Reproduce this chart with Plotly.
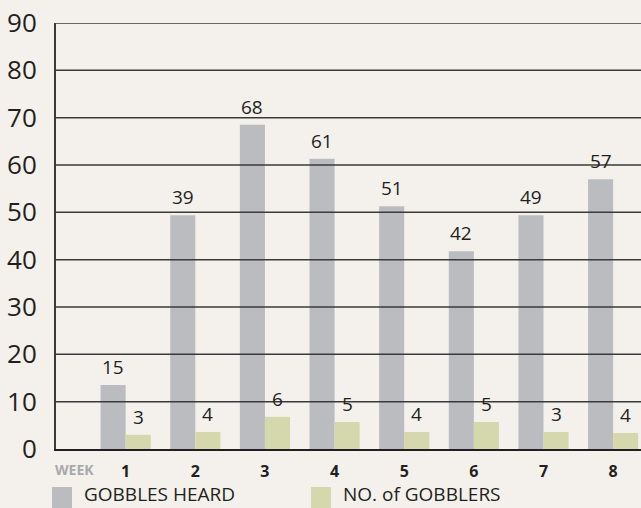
import plotly.graph_objects as go

weeks = [1, 2, 3, 4, 5, 6, 7, 8]
gobbles_heard = [13.5, 49.4, 68.5, 61.3, 51.3, 41.8, 49.4, 57.0]
gobbles_labels = ["15", "39", "68", "61", "51", "42", "49", "57"]
gobblers = [3.0, 3.6, 6.8, 5.7, 3.6, 5.7, 3.6, 3.4]
gobblers_labels = ["3", "4", "6", "5", "4", "5", "3", "4"]
series_names = ["GOBBLES HEARD", "NO. of GOBBLERS"]
y_ticks = [0, 10, 20, 30, 40, 50, 60, 70, 80, 90]

BG = "#F4F1EC"
GRAY = "#BBBCC0"
GREEN = "#D5D8AD"
INK = "#231F20"
FONT = "Open Sans"

fig = go.Figure()
fig.add_trace(go.Bar(x=weeks, y=gobbles_heard, name=series_names[0], marker_color=GRAY,
                     marker_line_width=0, hoverinfo="skip"))
fig.add_trace(go.Bar(x=weeks, y=gobblers, name=series_names[1], marker_color=GREEN,
                     marker_line_width=0, hoverinfo="skip"))

# value labels above each bar
for vals, labels, xs in [(gobbles_heard, gobbles_labels, -12.5), (gobblers, gobblers_labels, 12.5)]:
    for w, v, t in zip(weeks, vals, labels):
        fig.add_annotation(x=w, y=v, xref="x", yref="y", text=t, showarrow=False,
                           xanchor="center", yanchor="bottom", xshift=xs, yshift=3,
                           font=dict(family=FONT, size=19, color=INK))

# gridlines drawn above bars
for v in y_ticks[1:]:
    fig.add_shape(type="line", xref="paper", yref="y", x0=0, x1=1, y0=v, y1=v,
                  line=dict(color="#3a3a3a", width=1.5), layer="above")

# legend
for i, (name, col) in enumerate(zip(series_names, [GRAY, GREEN])):
    xoff = 0 if i == 0 else 259
    fig.add_shape(type="rect", xref="paper", yref="paper", xsizemode="pixel", ysizemode="pixel",
                  xanchor=0, yanchor=0, x0=-4 + xoff, x1=16 + xoff, y0=-38, y1=-70,
                  fillcolor=col, line_width=0)
    fig.add_annotation(xref="paper", yref="paper", x=0, y=0, xshift=27 + xoff, yshift=-45,
                       xanchor="left", yanchor="middle", showarrow=False, text=name,
                       borderpad=0, font=dict(family=FONT, size=19, color=INK))

fig.add_annotation(xref="x", yref="paper", x=0.27, y=0, yshift=-20, xanchor="center",
                   yanchor="middle", showarrow=False, text="<b>WEEK</b>",
                   font=dict(family=FONT, size=14, color="#A8A9AC"))

fig.update_layout(
    width=641, height=508,
    margin=dict(l=56, r=0, t=23, b=59),
    paper_bgcolor=BG, plot_bgcolor=BG,
    barmode="group", bargap=0.28, bargroupgap=0,
    showlegend=False, hovermode=False,
    font=dict(family=FONT, color=INK),
)
fig.update_xaxes(range=[0, 8.4], tickvals=weeks, ticktext=[f"<b>{w}</b>" for w in weeks],
                 tickfont=dict(family=FONT, size=16, color=INK), showgrid=False,
                 showline=True, linecolor=INK, linewidth=2, layer="above traces",
                 ticks="", ticklabelstandoff=7, zeroline=False, fixedrange=True)
fig.update_yaxes(range=[0, 90], tickvals=y_ticks, tickfont=dict(family=FONT, size=26, color=INK),
                 showgrid=False, showline=True, linecolor="#3a3a3a", linewidth=2,
                 layer="above traces", ticks="", ticklabelstandoff=12, zeroline=False,
                 fixedrange=True)

fig.write_html("out.html", config={"displayModeBar": False},
               post_script="document.body.style.margin='0';document.body.style.background='" + BG + "';")
